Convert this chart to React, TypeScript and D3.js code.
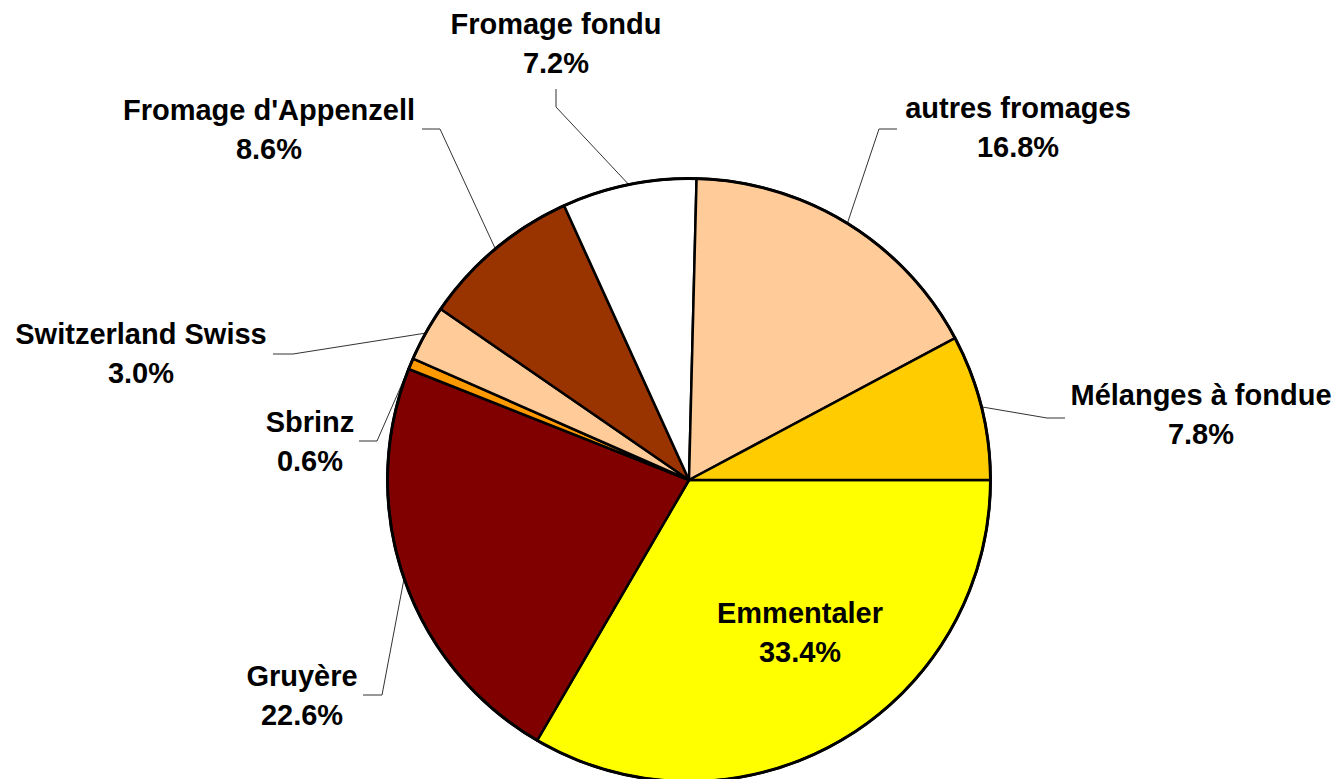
import React from 'react'
import * as d3 from 'd3'

// cheese shares, clockwise from 3 o'clock
const CHEESES = [
  'Emmentaler',
  'Gruyère',
  'Sbrinz',
  'Switzerland Swiss',
  "Fromage d'Appenzell",
  'Fromage fondu',
  'autres fromages',
  'Mélanges à fondue',
]
const SHARES = [33.4, 22.6, 0.6, 3.0, 8.6, 7.2, 16.8, 7.8]
const COLORS = ['#FFFF00', '#800000', '#FF9900', '#FFCC99', '#993300', '#FFFFFF', '#FFCC99', '#FFCC00']

// label placement: text centre, first baseline, leader start + elbow (null = inside slice)
const LABEL_LAYOUT = [
  { x: 800, y: 623, leader: null },
  { x: 302, y: 686, leader: [[363, 695], [382, 695]] },
  { x: 310, y: 432, leader: [[359, 441], [377, 441]] },
  { x: 141, y: 344, leader: [[273, 354], [293, 354]] },
  { x: 269, y: 120, leader: [[422, 129], [440, 129]] },
  { x: 556, y: 34, leader: [[556, 89], [556, 107]] },
  { x: 1018, y: 118, leader: [[897, 129], [879, 129]] },
  { x: 1201, y: 405, leader: [[1065, 418], [1047, 418]] },
]

const W = 1339
const H = 779
const CX = 689
const CY = 480
const R = 301.5

export default function App() {
  const rows = CHEESES.map((name, i) => ({ name, value: SHARES[i], color: COLORS[i], i }))

  const pie = d3
    .pie<any>()
    .value((d) => d.value)
    .sort(null)
    .startAngle(Math.PI / 2)
    .endAngle(Math.PI / 2 + Math.PI * 2)

  const arcs = pie(rows)
  const arc = d3.arc<any>().innerRadius(0).outerRadius(R)

  const onRim = (a: any) => {
    const m = (a.startAngle + a.endAngle) / 2
    return [Math.sin(m) * R, -Math.cos(m) * R]
  }

  const font = { fontFamily: '"Liberation Sans", Arial, sans-serif', fontWeight: 700, fontSize: 29 }

  return (
    <svg
      width={W}
      height={H}
      style={{ position: 'absolute', left: 0, top: 0, background: '#fff' }}
    >
      <g transform={`translate(${CX},${CY})`}>
        {/* leader lines sit under the pie */}
        {arcs.map((a) => {
          const lay = LABEL_LAYOUT[a.data.i]
          if (!lay.leader) return null
          const [ex, ey] = onRim(a)
          const pts = [...lay.leader.map(([x, y]) => [x - CX, y - CY]), [ex, ey]]
          return (
            <path
              key={'l' + a.data.i}
              d={d3.line()(pts as [number, number][]) || ''}
              fill="none"
              stroke="#333"
              strokeWidth={1}
            />
          )
        })}
        {arcs.map((a) => (
          <path
            key={'s' + a.data.i}
            d={arc(a) || ''}
            fill={a.data.color}
            stroke="#000"
            strokeWidth={2.5}
            strokeLinejoin="round"
          />
        ))}
        <circle r={R} fill="none" stroke="#000" strokeWidth={3} />
      </g>
      {arcs.map((a) => {
        const lay = LABEL_LAYOUT[a.data.i]
        return (
          <text key={'t' + a.data.i} textAnchor="middle" fill="#000" style={font}>
            <tspan x={lay.x} y={lay.y}>
              {a.data.name}
            </tspan>
            <tspan x={lay.x} y={lay.y + 38.5}>
              {a.data.value.toFixed(1) + '%'}
            </tspan>
          </text>
        )
      })}
    </svg>
  )
}
